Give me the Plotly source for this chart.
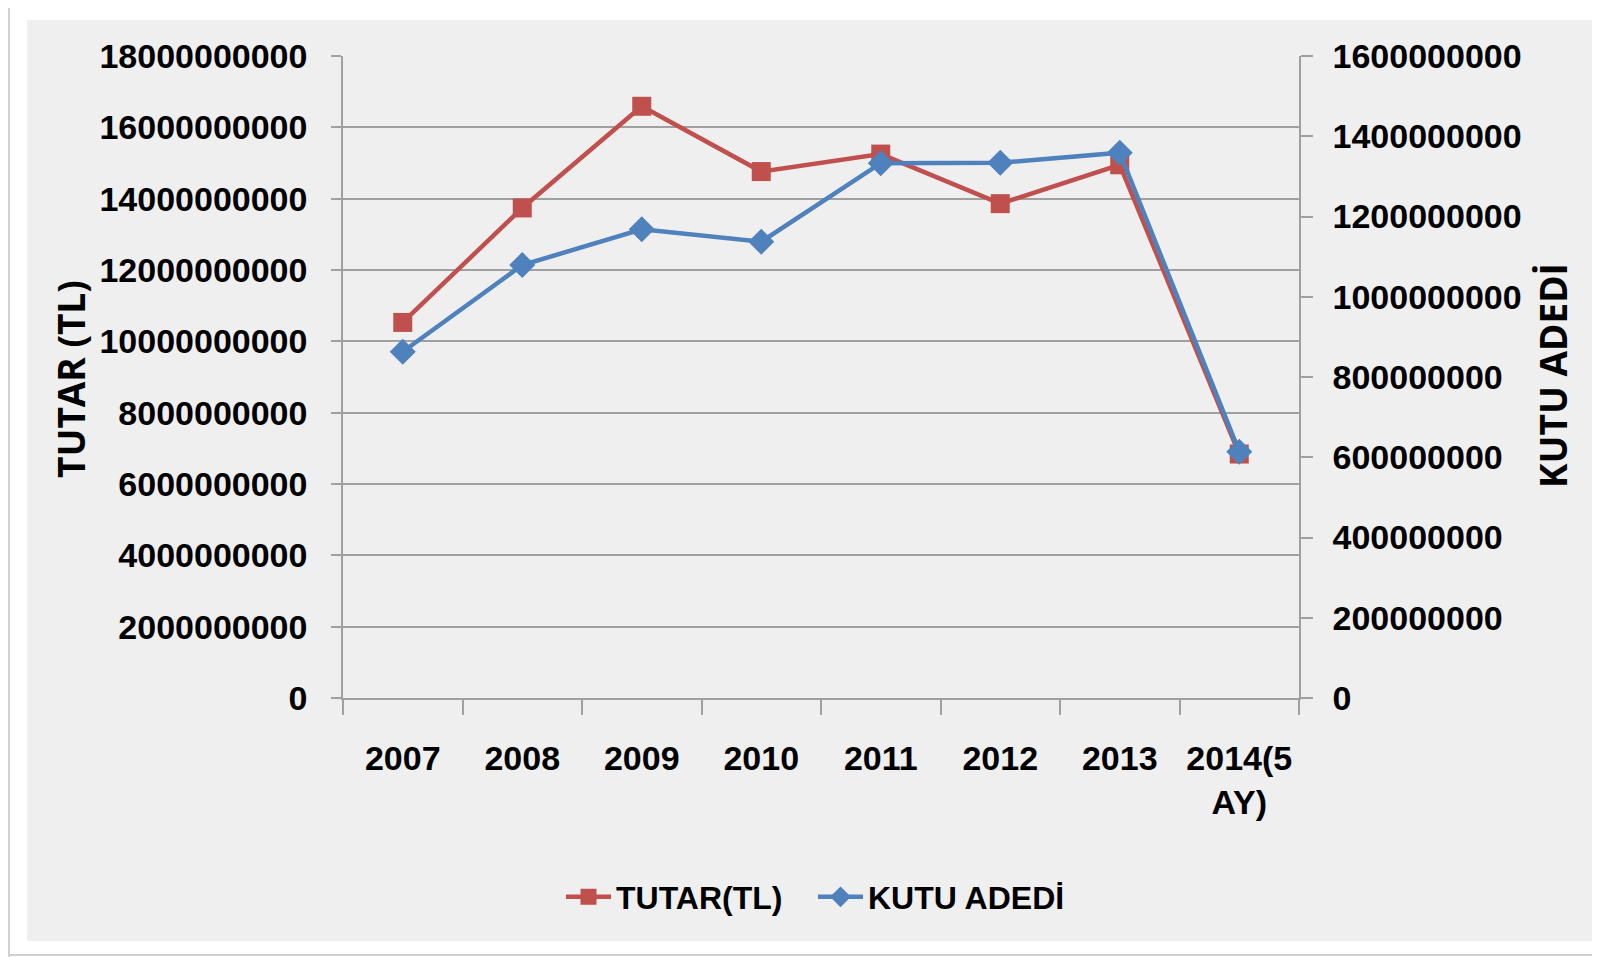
import plotly.graph_objects as go

categories = ["2007", "2008", "2009", "2010", "2011", "2012", "2013", "2014(5 AY)"]
tick_labels = ["2007", "2008", "2009", "2010", "2011", "2012", "2013", "2014(5<br>AY)"]
tutar_tl = [10.53e9, 13.74e9, 16.59e9, 14.76e9, 15.25e9, 13.86e9, 14.95e9, 6.84e9]
kutu_adedi = [0.863e9, 1.079e9, 1.168e9, 1.137e9, 1.333e9, 1.334e9, 1.359e9, 0.614e9]

RED = "#C0504D"
BLUE = "#4F81BD"
GRAY_BG = "#EFEFEF"
AXIS = "#A0A0A0"
FONT_FAM = "Liberation Sans, Arial, sans-serif"
TICK_FONT = dict(family=FONT_FAM, size=34, color="#000000", weight="bold")

OFF = 8  # page body margin
W, H = 1600, 957
# plot area in page coordinates
PL, PR, PT, PB = 343, 1299, 56, 698
L, R, T, B = PL - OFF, PR - OFF, PT - OFF, PB - OFF


def px(x):
    return (x - OFF - L) / (R - L)


def py(y):
    return (B - (y - OFF)) / (B - T)


fig = go.Figure()
fig.add_trace(go.Scatter(
    x=categories, y=tutar_tl, name="TUTAR(TL)", mode="lines+markers",
    line=dict(color=RED, width=4.5),
    marker=dict(symbol="square", size=19, color=RED),
    yaxis="y",
))
fig.add_trace(go.Scatter(
    x=categories, y=kutu_adedi, name="KUTU ADEDİ", mode="lines+markers",
    line=dict(color=BLUE, width=4.5),
    marker=dict(symbol="diamond", size=20, color=BLUE),
    yaxis="y2",
))

fig.update_layout(
    width=W, height=H,
    margin=dict(l=L, r=W - R, t=T, b=H - B, pad=0),
    paper_bgcolor="white",
    plot_bgcolor=GRAY_BG,
    showlegend=True,
    legend=dict(
        orientation="h", x=px(561), xanchor="left", y=py(897), yanchor="middle",
        font=dict(family=FONT_FAM, size=32, color="#000000", weight="bold"),
        bgcolor="rgba(0,0,0,0)", itemwidth=45, entrywidth=192, entrywidthmode="pixels",
        traceorder="normal",
    ),
    xaxis=dict(
        type="category", categoryorder="array", categoryarray=categories,
        tickmode="array", tickvals=categories, ticktext=tick_labels,
        tickson="boundaries", ticks="outside", ticklen=15, tickcolor=AXIS, tickwidth=1.5,
        showline=True, linecolor=AXIS, linewidth=1.5, showgrid=False,
        tickfont=TICK_FONT, tickangle=0, range=[-0.5, 7.5], ticklabelstandoff=29,
    ),
    yaxis=dict(
        range=[0, 18e9], dtick=2e9, tick0=0, tickformat="d",
        ticks="outside", ticklen=10, tickcolor=AXIS, tickwidth=1.5,
        showline=True, linecolor=AXIS, linewidth=1.5,
        showgrid=True, gridcolor=AXIS, gridwidth=1.5,
        zeroline=False, tickfont=TICK_FONT, ticklabelstandoff=17,
    ),
    yaxis2=dict(
        range=[0, 1.6e9], dtick=2e8, tick0=0, tickformat="d",
        overlaying="y", side="right",
        ticks="outside", ticklen=12, tickcolor=AXIS, tickwidth=1.5,
        showline=True, linecolor=AXIS, linewidth=1.5,
        showgrid=False, zeroline=False, tickfont=TICK_FONT, ticklabelstandoff=13,
    ),
    shapes=[
        dict(type="rect", xref="paper", yref="paper", layer="below",
             x0=px(27), x1=px(1596), y0=py(941), y1=py(20),
             fillcolor=GRAY_BG, line=dict(width=0)),
        dict(type="line", xref="paper", yref="paper", layer="below",
             x0=px(9), x1=px(9), y0=py(957), y1=py(0),
             line=dict(color="#D0D0D0", width=2)),
        dict(type="line", xref="paper", yref="paper", layer="below",
             x0=px(9), x1=px(1600), y0=py(955), y1=py(955),
             line=dict(color="#D0D0D0", width=2)),
    ],
    annotations=[
        dict(text="TUTAR (TL)", xref="paper", yref="paper",
             x=px(70), y=py(379), xanchor="center", yanchor="middle",
             textangle=-90, showarrow=False,
             font=dict(family="Open Sans, sans-serif", size=37, color="#000000", weight="bold")),
        dict(text="KUTU ADEDİ", xref="paper", yref="paper",
             x=px(1552), y=py(376), xanchor="center", yanchor="middle",
             textangle=-90, showarrow=False,
             font=dict(family="Open Sans, sans-serif", size=37, color="#000000", weight="bold")),
    ],
)

fig.write_html("out.html")
